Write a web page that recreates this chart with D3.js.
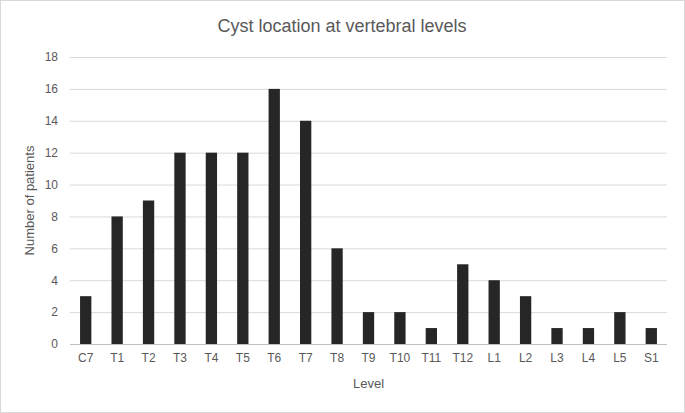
<!DOCTYPE html>
<html>
<head>
<meta charset="utf-8">
<script src="https://cdn.jsdelivr.net/npm/d3@7"></script>
<style>
  body { margin: 0; background: #fff; }
  text { font-family: "Liberation Sans", "DejaVu Sans", sans-serif; fill: #595959; }
</style>
</head>
<body>
<svg id="chart" width="685" height="413"></svg>
<script>
// chart data
var levels = ["C7","T1","T2","T3","T4","T5","T6","T7","T8","T9","T10","T11","T12","L1","L2","L3","L4","L5","S1"];
var patients = [3, 8, 9, 12, 12, 12, 16, 14, 6, 2, 2, 1, 5, 4, 3, 1, 1, 2, 1];
var yTicks = [0, 2, 4, 6, 8, 10, 12, 14, 16, 18];

var svg = d3.select("#chart");
var margin = {top: 57, right: 18, bottom: 69, left: 70};
var width = 685 - margin.left - margin.right,
    height = 413 - margin.top - margin.bottom;

// outer frame
svg.append("rect")
  .attr("x", 0.5).attr("y", 0.5)
  .attr("width", 684).attr("height", 412)
  .attr("fill", "#fff").attr("stroke", "#d9d9d9");

var g = svg.append("g").attr("transform", "translate(" + margin.left + "," + margin.top + ")");

var x = d3.scaleBand().domain(levels).range([0, width]).paddingInner(0.64).paddingOuter(0.32);
var y = d3.scaleLinear().domain([0, 18]).range([height, 0]);

// gridlines
g.selectAll(".grid").data(yTicks).enter().append("line")
  .attr("x1", 0).attr("x2", width)
  .attr("y1", function(d){ return y(d) + 0.5; })
  .attr("y2", function(d){ return y(d) + 0.5; })
  .attr("stroke", function(d){ return d === 0 ? "#bfbfbf" : "#d9d9d9"; });

// bars
g.selectAll(".bar").data(levels).enter().append("rect")
  .attr("x", function(d){ return x(d); })
  .attr("y", function(d, i){ return y(patients[i]); })
  .attr("width", x.bandwidth())
  .attr("height", function(d, i){ return height - y(patients[i]); })
  .attr("fill", "#262626");

// axes (labels only, Excel style)
var yAxis = g.append("g").call(d3.axisLeft(y).tickValues(yTicks).tickSize(0).tickPadding(12));
yAxis.select(".domain").remove();
yAxis.selectAll("text").style("font-size", "12px").attr("fill", "#595959");

var xAxis = g.append("g").attr("transform", "translate(0," + height + ")")
  .call(d3.axisBottom(x).tickSize(0).tickPadding(9));
xAxis.select(".domain").remove();
xAxis.selectAll("text").style("font-size", "12px").attr("fill", "#595959");

// titles
svg.append("text").attr("x", 342).attr("y", 32).attr("text-anchor", "middle")
  .style("font-size", "18px").text("Cyst location at vertebral levels");
svg.append("text").attr("x", margin.left + width / 2).attr("y", 388).attr("text-anchor", "middle")
  .style("font-size", "13px").text("Level");
svg.append("text").attr("transform", "translate(34," + (margin.top + height / 2) + ") rotate(-90)")
  .attr("text-anchor", "middle").style("font-size", "13px").text("Number of patients");
</script>
</body>
</html>
